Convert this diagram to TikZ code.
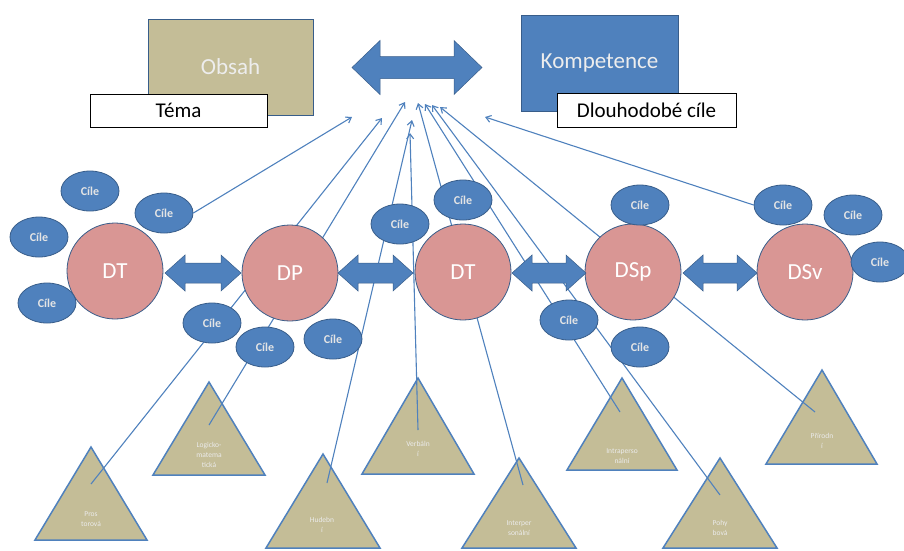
\documentclass[tikz,border=0pt]{standalone}
\usepackage{fontspec}
\setmainfont{Carlito}
\usetikzlibrary{shapes.geometric,arrows.meta}
\definecolor{tanc}{HTML}{C4BD97}
\definecolor{obl}{HTML}{4F81BD}
\definecolor{dkb}{HTML}{385D8A}
\definecolor{pnk}{HTML}{D99694}
\newcommand\fatarrow[6]{%
 \filldraw[fill=obl,draw=dkb,line width=0.5pt] (#1,#3) -- (#1+#6,#3-#5) -- (#1+#6,#3-#4) -- (#2-#6,#3-#4) -- (#2-#6,#3-#5) -- (#2,#3) -- (#2-#6,#3+#5) -- (#2-#6,#3+#4) -- (#1+#6,#3+#4) -- (#1+#6,#3+#5) -- cycle;}
\begin{document}
\begin{tikzpicture}[x=1pt,y=-1pt,
  bigbox/.style={draw=dkb,line width=0.8pt,inner sep=0pt,text=white!93!black,font=\fontsize{23}{26}\selectfont},
  labbox/.style={draw=black,fill=white,line width=1pt,inner sep=0pt,font=\fontsize{21}{24}\selectfont},
  circ/.style={circle,draw=dkb,fill=pnk,line width=0.8pt,minimum size=96pt,inner sep=0pt,text=white,font=\fontsize{23}{26}\selectfont},
  goal/.style={ellipse,draw=dkb,fill=obl,line width=0.8pt,minimum width=58pt,minimum height=40pt,inner sep=0pt,text=white!90!black,font=\fontsize{12}{14}\selectfont\bfseries},
  tri/.style={fill=tanc,draw=obl,line width=1.5pt,line join=miter},
  trilab/.style={align=center,text=white!92!black,font=\fontsize{7.5}{10}\selectfont,inner sep=0pt},
  conn/.style={draw=obl,line width=1.1pt,-{Straight Barb[length=5pt,width=7pt]}}]
\useasboundingbox (0,0) rectangle (904,550);
% top boxes
\node[bigbox,fill=tanc,minimum width=165pt,minimum height=96pt] (obsah) at (230.5,67) {Obsah};
\node[labbox,minimum width=177pt,minimum height=33pt] (tema) at (178.5,110.5) {Téma};
\node[bigbox,fill=obl,minimum width=157pt,minimum height=96pt] (komp) at (599.5,63) {Kompetence};
\node[labbox,minimum width=179pt,minimum height=34pt] (dlouho) at (646.5,110) {Dlouhodobé cíle};
\fatarrow{352}{482}{67.5}{11}{27}{28}
% triangles
\draw[tri] (91,447) -- (147,540) -- (35,540) -- cycle;
\draw[tri] (209,382) -- (265,475) -- (153,475) -- cycle;
\draw[tri] (323,454) -- (380,548) -- (266,548) -- cycle;
\draw[tri] (418,378) -- (474,474) -- (362,474) -- cycle;
\draw[tri] (519,458) -- (576,548) -- (462,548) -- cycle;
\draw[tri] (622,378) -- (677,470) -- (567,470) -- cycle;
\draw[tri] (720,458) -- (777,548) -- (663,548) -- cycle;
\draw[tri] (822,370) -- (877,464) -- (766,464) -- cycle;
\node[trilab] (tr1) at (91,519) {Pros\\torová};
\node[trilab] (tr2) at (209,455) {Logicko-\\matema\\tická};
\node[trilab] (tr3) at (322,525) {Hudebn\\í};
\node[trilab] (tr4) at (418,449) {Verbáln\\í};
\node[trilab] (tr5) at (519,528) {Interper\\sonální};
\node[trilab] (tr6) at (622,456) {Intraperso\\nální};
\node[trilab] (tr7) at (720,528) {Pohy\\bová};
\node[trilab] (tr8) at (822,441) {Přírodn\\í};
% sources and targets
\coordinate (s1) at (91,484);
\coordinate (s2) at (209,425);
\coordinate (s3) at (327,483);
\coordinate (s4) at (418,430);
\coordinate (s5) at (523,485);
\coordinate (s6) at (620,412);
\coordinate (s7) at (720,495);
\coordinate (s8) at (815,412);
\coordinate (t1) at (382,118);
\coordinate (t2) at (405,102);
\coordinate (t3) at (412,120);
\coordinate (t4) at (410,133);
\coordinate (t5) at (418,103);
\coordinate (t6) at (425,104);
\coordinate (t7) at (432,105);
\coordinate (t8) at (440,107);
\coordinate (ta) at (352,117);
\coordinate (tb) at (485,117);
\foreach \i in {1,...,8} {\draw[conn] (s\i) -- (t\i);}
% circles
\node[circ] (dt1) at (115,271) {DT};
\node[circ] (dp) at (290,273) {DP};
\node[circ] (dt2) at (463,272) {DT};
\node[circ] (dsp) at (633,272) {DSp};
\node[circ] (dsv) at (805,272) {DSv};
\fatarrow{165}{241}{273}{10}{18}{20}
\fatarrow{338}{413}{273}{10}{18}{20}
\fatarrow{512}{586}{273}{10}{18}{20}
\fatarrow{683}{757}{273}{10}{18}{20}
% goals
\node[goal] (e1) at (90,191) {Cíle};
\node[goal] (e2) at (39,237) {Cíle};
\node[goal] (e3) at (164,213) {Cíle};
\node[goal] (e4) at (47,303) {Cíle};
\node[goal] (e5) at (212,323) {Cíle};
\node[goal] (e6) at (265,347) {Cíle};
\node[goal] (e7) at (333,339) {Cíle};
\node[goal] (e8) at (400,224) {Cíle};
\node[goal] (e9) at (463,200) {Cíle};
\node[goal] (e10) at (640,205) {Cíle};
\node[goal] (e11) at (569,320) {Cíle};
\node[goal] (e12) at (640,347) {Cíle};
\node[goal] (e13) at (783,205) {Cíle};
\node[goal] (e14) at (853,215) {Cíle};
\node[goal] (e15) at (880,262) {Cíle};
\draw[conn] (e3.east) -- (ta);
\draw[conn] (e13.west) -- (tb);
\end{tikzpicture}
\end{document}
